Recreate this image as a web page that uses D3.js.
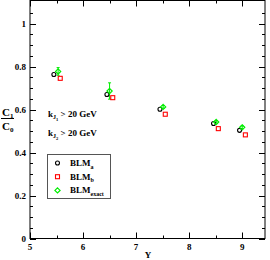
<!DOCTYPE html>
<html>
<head>
<meta charset="utf-8">
<script src="https://cdn.jsdelivr.net/npm/d3@7"></script>
<style>
  body { margin: 0; background: #fff; }
  text { font-family: "Liberation Serif", "DejaVu Serif", serif; font-weight: bold; }
</style>
</head>
<body>
<svg id="chart" width="270" height="260"></svg>
<script>
// data
const blmA = [[5.45, 0.763], [6.45, 0.670], [7.45, 0.601], [8.46, 0.535], [8.95, 0.503]];
const blmB = [[5.57, 0.745], [6.56, 0.655], [7.55, 0.578], [8.55, 0.511], [9.06, 0.482]];
const blmExact = [[5.53, 0.777], [6.50, 0.686], [7.51, 0.612], [8.51, 0.542], [9.00, 0.517]];
const exactErr = [0.018, 0.038, 0.006, 0.005, 0.006];
const xTicks = [5, 6, 7, 8, 9];
const yTicks = [0, 0.2, 0.4, 0.6, 0.8, 1];

const svg = d3.select("#chart");
const mLeft = 30, mRight = 265, mTop = 0.5, mBottom = 238.5;

const x = d3.scaleLinear().domain([5, 9.43]).range([mLeft, mRight]);
const y = d3.scaleLinear().domain([0, 1.107]).range([mBottom, mTop]);

// frame
svg.append("rect")
  .attr("x", mLeft).attr("y", mTop)
  .attr("width", mRight - mLeft).attr("height", mBottom - mTop)
  .attr("fill", "none").attr("stroke", "#000").attr("stroke-width", 1);

// ticks, inside on all four sides
const xMinor = d3.range(5, 9.45, 0.5);
const yMinor = d3.range(0, 1.1, 0.05);
const tk = svg.append("g").attr("stroke", "#000").attr("stroke-width", 1);
xMinor.forEach(v => {
  const len = xTicks.includes(Math.round(v * 100) / 100) ? 6 : 3;
  const px = Math.round(x(v)) + 0.5;
  tk.append("line").attr("x1", px).attr("x2", px).attr("y1", mBottom).attr("y2", mBottom - len);
  tk.append("line").attr("x1", px).attr("x2", px).attr("y1", mTop).attr("y2", mTop + len);
});
yMinor.forEach(v => {
  const major = Math.abs(v * 5 - Math.round(v * 5)) < 1e-6;
  const len = major ? 6 : 3;
  const py = Math.round(y(v)) + 0.5;
  tk.append("line").attr("y1", py).attr("y2", py).attr("x1", mLeft).attr("x2", mLeft + len);
  tk.append("line").attr("y1", py).attr("y2", py).attr("x1", mRight).attr("x2", mRight - len);
});

// tick labels
svg.append("g").selectAll("text").data(xTicks).join("text")
  .attr("x", d => x(d)).attr("y", 250)
  .attr("text-anchor", "middle").attr("font-size", 9)
  .text(d => d);
svg.append("g").selectAll("text").data(yTicks).join("text")
  .attr("x", 26).attr("y", d => y(d) + 3)
  .attr("text-anchor", "end").attr("font-size", 9)
  .text(d => d);

// axis titles
svg.append("text").attr("x", 148).attr("y", 258).attr("text-anchor", "middle")
  .attr("font-size", 9).text("Y");
const yl = svg.append("text").attr("x", 2).attr("y", 115.5).attr("font-size", 11);
yl.append("tspan").text("C");
yl.append("tspan").attr("dy", 2).attr("font-size", 7).text("1");
svg.append("line").attr("x1", 1).attr("x2", 14).attr("y1", 118.5).attr("y2", 118.5)
  .attr("stroke", "#000").attr("stroke-width", 1);
const yl2 = svg.append("text").attr("x", 2).attr("y", 130).attr("font-size", 11);
yl2.append("tspan").text("C");
yl2.append("tspan").attr("dy", 2).attr("font-size", 7).text("0");

// cut labels
[["1", 117], ["2", 136]].forEach(([n, yy]) => {
  const t = svg.append("text").attr("x", 48).attr("y", yy).attr("font-size", 9);
  t.append("tspan").text("k");
  t.append("tspan").attr("dy", 2).attr("font-size", 6).text("J");
  t.append("tspan").attr("dy", 1.5).attr("font-size", 4.5).text(n);
  t.append("tspan").attr("dy", -3.5).text(" > 20 GeV");
});

// markers
const green = "#00ee00";
function circle(g, px, py) {
  g.append("circle").attr("cx", px).attr("cy", py).attr("r", 2)
    .attr("fill", "none").attr("stroke", "#000").attr("stroke-width", 1.1);
}
function square(g, px, py) {
  g.append("rect").attr("x", px - 2).attr("y", py - 2).attr("width", 4).attr("height", 4)
    .attr("fill", "none").attr("stroke", "#ff0000").attr("stroke-width", 1.1);
}
function diamond(g, px, py) {
  g.append("path").attr("d", `M${px},${py - 2.6}L${px + 2.6},${py}L${px},${py + 2.6}L${px - 2.6},${py}Z`)
    .attr("fill", "none").attr("stroke", green).attr("stroke-width", 1.2);
}

const pts = svg.append("g");
blmExact.forEach(([a, b], i) => {
  const px = x(a);
  pts.append("line").attr("x1", px).attr("x2", px)
    .attr("y1", y(b - exactErr[i])).attr("y2", y(b + exactErr[i]))
    .attr("stroke", green).attr("stroke-width", 1);
  [b - exactErr[i], b + exactErr[i]].forEach(e => {
    pts.append("line").attr("x1", px - 1.5).attr("x2", px + 1.5)
      .attr("y1", y(e)).attr("y2", y(e)).attr("stroke", green).attr("stroke-width", 1);
  });
});
blmA.forEach(([a, b]) => circle(pts, x(a), y(b)));
blmB.forEach(([a, b]) => square(pts, x(a), y(b)));
blmExact.forEach(([a, b]) => diamond(pts, x(a), y(b)));

// legend
const lg = svg.append("g");
lg.append("rect").attr("x", 47.5).attr("y", 154.5).attr("width", 63).attr("height", 44)
  .attr("fill", "#fff").attr("stroke", "#555").attr("stroke-width", 1);
const entries = [["a", circle], ["b", square], ["exact", diamond]];
entries.forEach(([sub, fn], i) => {
  const yy = 163 + i * 13.7;
  fn(lg, 57.5, yy);
  const t = lg.append("text").attr("x", 70).attr("y", yy + 3).attr("font-size", 9);
  t.append("tspan").text("BLM");
  t.append("tspan").attr("dy", 2.5).attr("font-size", 6).text(sub);
});
</script>
</body>
</html>
